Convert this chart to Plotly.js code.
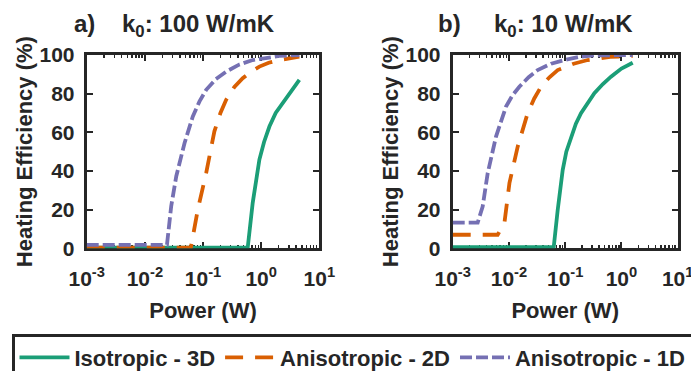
<!DOCTYPE html>
<html>
<head>
<meta charset="utf-8">
<script src="https://cdn.plot.ly/plotly-3.0.1.min.js"></script>
<style>html,body{margin:0;padding:0;background:#fff;}#chart{width:691px;height:371px;}</style>
</head>
<body>
<div id="chart"></div>
<script>
// ---------- data (Power in W, efficiency in %) ----------
const seriesNames = ['Isotropic - 3D', 'Anisotropic - 2D', 'Anisotropic - 1D'];
const seriesColors = ['#1b9e77', '#d95f02', '#7570b3'];

// panel a) k0 = 100 W/mK
const aIsoP = [0.001, 0.587, 0.716, 0.813, 0.933, 1.122, 1.387, 1.778, 2.344, 3.16, 4.54];
const aIsoE = [0.3,   0.3,   23.5,  35,    45.9,  55,    63,    70,    75,    80.5, 87.1];
const aAn2P = [0.001, 0.0617, 0.0815, 0.1135, 0.157, 0.1995, 0.25, 0.3467, 0.482, 0.676, 0.933, 1.349, 2.056, 4.54];
const aAn2E = [0.3,   0.3,    20.1,   39,     60.5,  70,     76.8, 83.5,   88,    91.5,  94,    96,    97.4,  99.1];
const aAn1P = [0.001, 0.024, 0.0284, 0.0347, 0.0482, 0.0668, 0.0871, 0.1135, 0.166, 0.25, 0.417, 0.716, 2.056, 4.54];
const aAn1E = [1.8,   1.8,   21.8,   37.3,   54.5,   68.2,   76,     82,     87.5,  91.4, 95,    97.4,  99.5,  100];

// panel b) k0 = 10 W/mK
const bIsoP = [0.001, 0.0625, 0.0736, 0.0904, 0.1047, 0.1268, 0.1549, 0.191, 0.2512, 0.330, 0.4677, 0.652, 1.0, 1.585];
const bIsoE = [0.6,   0.6,    19.9,   40.6,   50,     57.8,   64.5,   69.9,  75.5,   80.2,  85,     88.8,  93,  96];
const bAn2P = [0.001, 0.0063, 0.0083, 0.0102, 0.0143, 0.0215, 0.02818, 0.0372, 0.05248, 0.0736, 0.1413, 0.251, 0.631, 1.585];
const bAn2E = [7,     7,      13,     33.7,   52.6,   69.9,   77.5,    83.6,   88.5,    92.2,   95.5,   97.4,  99,    99.5];
const bAn1P = [0.001, 0.00278, 0.00341, 0.00419, 0.00589, 0.00887, 0.01148, 0.0153, 0.02239, 0.0324, 0.05623, 0.0966, 0.1778, 0.331, 1.585];
const bAn1E = [13.3,  13.3,    21.6,    38.9,    57.8,    73.3,    79,      83.6,   88.5,    92.2,   95.5,    97.4,   99,     99.8,  100];

const xTickVals = [0.001, 0.01, 0.1, 1, 10];
const xTickText = ['10<sup>-3</sup>', '10<sup>-2</sup>', '10<sup>-1</sup>', '10<sup>0</sup>', '10<sup>1</sup>'];
const yTickVals = [0, 20, 40, 60, 80, 100];
const panelTitles = ['a)\u00a0\u00a0\u00a0\u00a0k<sub>0</sub>: 100 W/mK', 'b)\u00a0\u00a0\u00a0\u00a0\u00a0k<sub>0</sub>: 10 W/mK'];
const xTitle = 'Power (W)';
const yTitle = 'Heating Efficiency (%)';

// ---------- styling ----------
const W = 691, H = 371;
const FAM = '"Liberation Sans", Arial, Helvetica, sans-serif';
const INK = '#262626';
const font = (s) => ({family: FAM, size: s, color: INK, weight: 'bold'});
const dashes = ['solid', '18px,12px', '12px,4px'];

function mk(x, y, i, xa, ya, show) {
  return {x: x, y: y, type: 'scatter', mode: 'lines', name: seriesNames[i],
    xaxis: xa, yaxis: ya, showlegend: show, cliponaxis: false,
    line: {color: seriesColors[i], width: 3.8, dash: dashes[i]}, hoverinfo: 'skip'};
}

const traces = [
  mk(aIsoP, aIsoE, 0, 'x', 'y', true),
  mk(aAn2P, aAn2E, 1, 'x', 'y', true),
  mk(aAn1P, aAn1E, 2, 'x', 'y', true),
  mk(bIsoP, bIsoE, 0, 'x2', 'y2', false),
  mk(bAn2P, bAn2E, 1, 'x2', 'y2', false),
  mk(bAn1P, bAn1E, 2, 'x2', 'y2', false)
];

function xAxis(l, r, anchor) {
  return {type: 'log', range: [-3, 1], domain: [l / W, r / W], anchor: anchor,
    tickmode: 'array', tickvals: xTickVals, ticktext: xTickText,
    ticks: 'inside', ticklen: 6, tickwidth: 2, tickcolor: INK,
    minor: {ticks: 'inside', ticklen: 3, tickwidth: 1.5, tickcolor: INK, dtick: 'D1', showgrid: false},
    showline: true, linewidth: 3, linecolor: INK, mirror: 'ticks',
    showgrid: false, zeroline: false, layer: 'below traces',
    tickfont: font(21), ticklabelstandoff: 9, ticklabeloverflow: 'allow',
    title: {text: xTitle, font: font(22), standoff: 15}, automargin: false};
}
function yAxis(anchor) {
  return {range: [0, 100], domain: [1 - 248.3 / H, 1 - 55 / H], anchor: anchor,
    tickmode: 'array', tickvals: yTickVals,
    ticks: 'inside', ticklen: 6, tickwidth: 2, tickcolor: INK,
    showline: true, linewidth: 3, linecolor: INK, mirror: 'ticks',
    showgrid: false, zeroline: false, layer: 'below traces',
    tickfont: font(21), ticklabelstandoff: 5,
    title: {text: yTitle, font: font(22), standoff: 1}, automargin: false};
}

const layout = {
  width: W, height: H,
  margin: {l: 0, r: 0, t: 0, b: 0, autoexpand: false},
  paper_bgcolor: '#fff', plot_bgcolor: '#fff',
  showlegend: true,
  xaxis: xAxis(86.7, 319.3, 'y'),
  yaxis: yAxis('x'),
  xaxis2: xAxis(452.7, 677.7, 'y2'),
  yaxis2: yAxis('x2'),
  legend: {orientation: 'h', x: 12 / W, xanchor: 'left', y: 1 - 334 / H, yanchor: 'top',
    bgcolor: '#fff', bordercolor: INK, borderwidth: 2.5, font: font(22), itemwidth: 50},
  annotations: [
    {text: panelTitles[0], xref: 'paper', yref: 'paper', x: 72 / W, y: 1 - 8 / H,
     xanchor: 'left', yanchor: 'top', showarrow: false, font: font(24)},
    {text: panelTitles[1], xref: 'paper', yref: 'paper', x: 436 / W, y: 1 - 8 / H,
     xanchor: 'left', yanchor: 'top', showarrow: false, font: font(24)}
  ]
};

Plotly.newPlot('chart', traces, layout, {staticPlot: true, displayModeBar: false});
</script>
</body>
</html>
